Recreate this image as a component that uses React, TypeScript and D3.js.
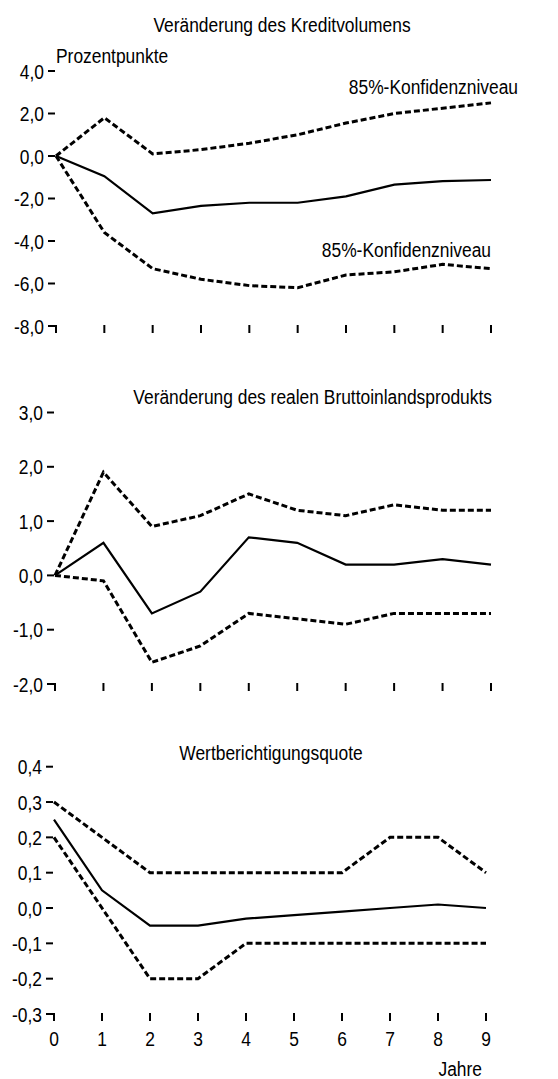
import React from "react";
import * as d3 from "d3";

const years = [0, 1, 2, 3, 4, 5, 6, 7, 8, 9];

const kreditUpper = [0, 1.8, 0.1, 0.3, 0.6, 1.0, 1.55, 2.0, 2.25, 2.5];
const kreditMid = [0, -0.95, -2.7, -2.35, -2.2, -2.2, -1.9, -1.35, -1.18, -1.13];
const kreditLower = [0, -3.6, -5.3, -5.8, -6.1, -6.2, -5.6, -5.45, -5.1, -5.3];
const kreditTicks = [4, 2, 0, -2, -4, -6, -8];

const bipUpper = [0, 1.9, 0.9, 1.1, 1.5, 1.2, 1.1, 1.3, 1.2, 1.2];
const bipMid = [0, 0.6, -0.7, -0.3, 0.7, 0.6, 0.2, 0.2, 0.3, 0.2];
const bipLower = [0, -0.1, -1.6, -1.3, -0.7, -0.8, -0.9, -0.7, -0.7, -0.7];
const bipTicks = [3, 2, 1, 0, -1, -2];

const wbUpper = [0.3, 0.2, 0.1, 0.1, 0.1, 0.1, 0.1, 0.2, 0.2, 0.1];
const wbMid = [0.25, 0.05, -0.05, -0.05, -0.03, -0.02, -0.01, 0.0, 0.01, 0.0];
const wbLower = [0.2, 0.0, -0.2, -0.2, -0.1, -0.1, -0.1, -0.1, -0.1, -0.1];
const wbTicks = [0.4, 0.3, 0.2, 0.1, 0, -0.1, -0.2, -0.3];

const FONT = "'Liberation Sans', Arial, sans-serif";
const FS = 20;
const SX = 0.87;

const fmt = (v: number, dec: number) => {
  const s = Math.abs(v) < 1e-9 ? (0).toFixed(dec) : v.toFixed(dec);
  return s.replace(".", ",");
};

type TProps = { x: number; y: number; size?: number; anchor?: string; children: React.ReactNode };
function T({ x, y, size = FS, anchor = "start", children }: TProps) {
  return (
    <text transform={`translate(${x},${y}) scale(${SX},1)`} textAnchor={anchor as any} fontSize={size} fontFamily={FONT} fill="#000">
      {children}
    </text>
  );
}

type PanelProps = {
  x0: number; x1: number; yTop: number; yBot: number;
  domain: [number, number];
  ticks: number[]; dec: number;
  upper: number[]; mid: number[]; lower: number[];
  showXLabels?: boolean;
};

function Panel(p: PanelProps) {
  const x = d3.scaleLinear().domain([0, 9]).range([p.x0, p.x1]);
  const y = d3.scaleLinear().domain(p.domain).range([p.yBot, p.yTop]);
  const line = d3.line<number>().x((_, i) => x(years[i])).y((d) => y(d));
  return (
    <g>
      {p.ticks.map((t) => (
        <g key={"y" + t}>
          <line x1={p.x0 - 8} x2={p.x0 + (t === p.domain[0] ? 1 : -1)} y1={y(t)} y2={y(t)} stroke="#000" strokeWidth={2} />
          <T x={p.x0 - 12} y={y(t) + 7.5} anchor="end">{fmt(t, p.dec)}</T>
        </g>
      ))}
      {years.map((yr) => (
        <g key={"x" + yr}>
          <line x1={x(yr)} x2={x(yr)} y1={p.yBot - 1} y2={p.yBot + 7} stroke="#000" strokeWidth={2} />
          {p.showXLabels && (
            <T x={x(yr)} y={p.yBot + 32} anchor="middle">{yr}</T>
          )}
        </g>
      ))}
      <path d={line(p.upper) || ""} fill="none" stroke="#000" strokeWidth={3} strokeDasharray="6,3" />
      <path d={line(p.lower) || ""} fill="none" stroke="#000" strokeWidth={3} strokeDasharray="6,3" />
      <path d={line(p.mid) || ""} fill="none" stroke="#000" strokeWidth={2.2} />
    </g>
  );
}

export default function App() {
  return (
    <svg width={558} height={1079} style={{ position: "absolute", left: 0, top: 0, background: "#fff" }}>
      <rect x={0} y={0} width={558} height={1079} fill="#fff" />
      <T x={282} y={32} anchor="middle">Veränderung des Kreditvolumens</T>
      <T x={56} y={63}>Prozentpunkte</T>
      <T x={518} y={94} anchor="end">85%-Konfidenzniveau</T>
      <T x={491} y={257} anchor="end">85%-Konfidenzniveau</T>
      <Panel x0={56} x1={491} yTop={71} yBot={326} domain={[-8, 4]} ticks={kreditTicks} dec={1}
        upper={kreditUpper} mid={kreditMid} lower={kreditLower} />

      <T x={492} y={404} anchor="end">Veränderung des realen Bruttoinlandsprodukts</T>
      <Panel x0={55} x1={491} yTop={412.5} yBot={684} domain={[-2, 3]} ticks={bipTicks} dec={1}
        upper={bipUpper} mid={bipMid} lower={bipLower} />

      <T x={271} y={760} anchor="middle">Wertberichtigungsquote</T>
      <Panel x0={54} x1={486} yTop={766.7} yBot={1014} domain={[-0.3, 0.4]} ticks={wbTicks} dec={1}
        upper={wbUpper} mid={wbMid} lower={wbLower} showXLabels />
      <T x={482} y={1076} anchor="end">Jahre</T>
    </svg>
  );
}
